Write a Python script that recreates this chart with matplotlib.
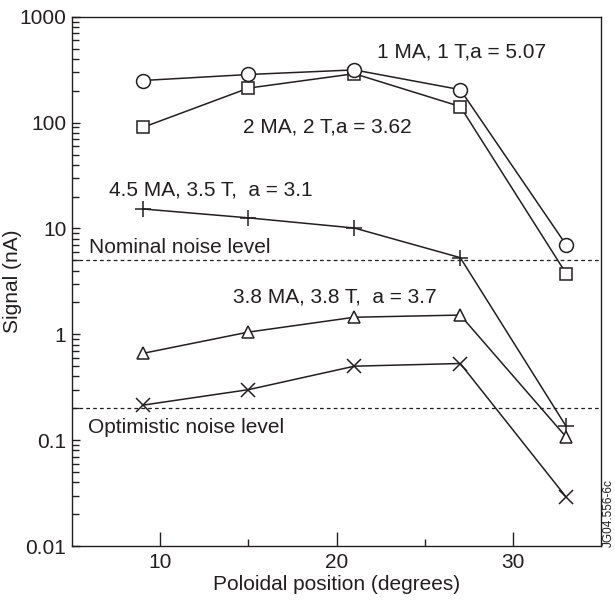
import matplotlib
matplotlib.use("Agg")
import matplotlib.pyplot as plt
from matplotlib.ticker import LogLocator, NullFormatter, FixedLocator

plt.rcParams['font.family'] = ['Liberation Sans', 'DejaVu Sans']

# data
positions = [9, 15, 21, 27, 33]
sig_1ma = [250, 285, 315, 205, 7.0]
sig_2ma = [90, 212, 290, 142, 3.75]
sig_45ma = [15.3, 12.6, 10.1, 5.3, 0.135]
sig_38ma = [0.66, 1.05, 1.45, 1.52, 0.107]
sig_x = [0.214, 0.30, 0.50, 0.53, 0.029]
nominal_noise = 5.0
optimistic_noise = 0.2

ink = '#231f20'

fig = plt.figure(figsize=(6.15, 6.0), dpi=100)
ax = fig.add_axes([0.117, 0.09, 0.861, 0.882])

mk = dict(color=ink, lw=1.1, markerfacecolor='white',
          markeredgecolor=ink, markeredgewidth=1.1, zorder=3)
ax.plot(positions, sig_2ma, marker='s', markersize=9, **mk)
ax.plot(positions, sig_1ma, marker='o', markersize=10, **mk)
ax.plot(positions, sig_45ma, marker='+', markersize=11, **mk)
ax.plot(positions, sig_38ma, marker='^', markersize=9, **mk)
ax.plot(positions, sig_x, marker='x', markersize=10, **mk)

ax.axhline(nominal_noise, color=ink, lw=0.9, ls=(0, (3, 2.5)), zorder=1)
ax.axhline(optimistic_noise, color=ink, lw=0.9, ls=(0, (3, 2.5)), zorder=1)

ax.set_yscale('log')
ax.set_xlim(5, 35)
ax.set_ylim(0.01, 1000)

fs = 15
ax.text(22.3, 470, '1 MA, 1 T,a = 5.07', fontsize=fs, color=ink, va='center')
ax.text(14.7, 90, '2 MA, 2 T,a = 3.62', fontsize=fs, color=ink, va='center')
ax.text(7.1, 23, '4.5 MA, 3.5 T,  a = 3.1', fontsize=fs, color=ink, va='center')
ax.text(5.95, 6.6, 'Nominal noise level', fontsize=fs, color=ink, va='center')
ax.text(14.1, 2.25, '3.8 MA, 3.8 T,  a = 3.7', fontsize=fs, color=ink, va='center')
ax.text(5.9, 0.133, 'Optimistic noise level', fontsize=fs, color=ink, va='center')

ax.set_xlabel('Poloidal position (degrees)', fontsize=fs, color=ink, labelpad=2)
ax.set_ylabel('Signal (nA)', fontsize=fs, color=ink)
ax.yaxis.set_label_coords(-0.094, 0.5)

ax.xaxis.set_major_locator(FixedLocator([10, 20, 30]))
ax.xaxis.set_minor_locator(FixedLocator([15, 25]))
ax.yaxis.set_minor_locator(LogLocator(base=10, subs=range(2, 10), numticks=20))
ax.yaxis.set_minor_formatter(NullFormatter())
ax.set_yticks([0.01, 0.1, 1, 10, 100, 1000])
ax.set_yticklabels(['0.01', '0.1', '1', '10', '100', '1000'])

ax.tick_params(axis='x', which='major', direction='in', length=10, width=1, colors=ink, labelsize=fs, pad=5)
ax.tick_params(axis='x', which='minor', direction='in', length=5, width=1, colors=ink)
ax.tick_params(axis='y', which='major', direction='in', length=6, width=1, colors=ink, labelsize=fs, pad=4)
ax.tick_params(axis='y', which='minor', direction='in', length=5, width=1, colors=ink)
for s in ax.spines.values():
    s.set_color(ink)
    s.set_linewidth(1)

fig.text(0.99, 0.145, 'JG04.556-6c', rotation=90, fontsize=8.5, color=ink,
         ha='center', va='center')

fig.savefig('out.png', dpi=100)
